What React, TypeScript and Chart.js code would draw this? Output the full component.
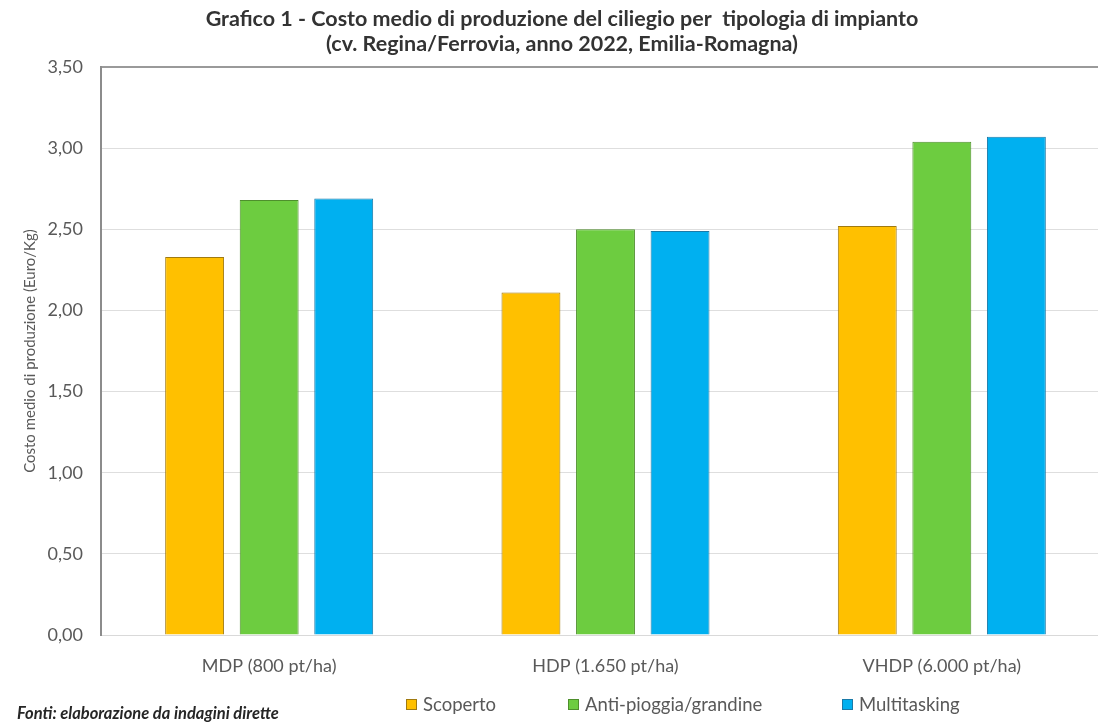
import React, { useEffect, useRef } from "react";
import { Chart, registerables } from "chart.js";

Chart.register(...registerables);

// Categories: planting density type
const categories = ["MDP (800 pt/ha)", "HDP (1.650 pt/ha)", "VHDP (6.000 pt/ha)"];

// Average production cost (Euro/Kg) per covering system
const scoperto = [2.33, 2.11, 2.52];
const antiPioggia = [2.68, 2.5, 3.04];
const multitasking = [2.69, 2.49, 3.07];

const seriesNames = ["Scoperto", "Anti-pioggia/grandine", "Multitasking"];
const seriesColors = ["#FFC000", "#6DCC40", "#00B0F0"];
const seriesBorders = ["#A07A10", "#4E8F2C", "#1A7AA8"];

const titleLines = [
  "Grafico 1 - Costo medio di produzione del ciliegio per  tipologia di impianto",
  "(cv. Regina/Ferrovia, anno 2022, Emilia-Romagna)",
];
const yAxisTitle = "Costo medio di produzione (Euro/Kg)";
const sourceNote = "Fonti: elaborazione da indagini dirette";

const FONT = "Lato, 'Open Sans', sans-serif";

// horizontal placement of the legend entries under the plot
const LEGEND_LEFT = [406, 568, 842];

export default function App() {
  const canvasRef = useRef<HTMLCanvasElement | null>(null);

  useEffect(() => {
    const canvas = canvasRef.current;
    if (!canvas) return;
    const values = [scoperto, antiPioggia, multitasking];
    const chart = new Chart(canvas, {
      type: "bar",
      data: {
        labels: categories,
        datasets: seriesNames.map((name, i) => ({
          label: name,
          data: values[i],
          backgroundColor: seriesColors[i],
          borderColor: seriesBorders[i],
          borderWidth: 1,
          categoryPercentage: 0.665,
          barPercentage: 0.79,
        })),
      },
      options: {
        responsive: false,
        animation: false,
        layout: { padding: { left: 14, right: 15, top: 0, bottom: 0 } },
        plugins: {
          legend: { display: false },
          tooltip: { enabled: false },
          title: {
            display: true,
            text: titleLines,
            color: "#333333",
            font: { family: FONT, size: 21.5, weight: "bold", lineHeight: 1.163 },
            padding: { top: 7, bottom: 10 },
          },
        },
        scales: {
          x: {
            afterFit: (s: any) => {
              s.height = 89;
            },
            grid: { display: false, drawTicks: false },
            border: { color: "#d9d9d9", width: 1 },
            ticks: {
              color: "#595959",
              font: { family: FONT, size: 18 },
              padding: 20,
            },
          },
          y: {
            min: 0,
            max: 3.5,
            afterFit: (s: any) => {
              s.width = 87;
            },
            ticks: {
              stepSize: 0.5,
              color: "#595959",
              font: { family: FONT, size: 18 },
              padding: 18,
              callback: (v: any) => Number(v).toFixed(2).replace(".", ","),
            },
            grid: {
              drawTicks: false,
              color: (ctx: any) => (ctx.tick && ctx.tick.value === 3.5 ? "#9a9a9a" : "#dedede"),
              lineWidth: (ctx: any) => (ctx.tick && ctx.tick.value === 3.5 ? 2 : 1),
            },
            border: { color: "#8c8c8c", width: 2 },
            title: {
              display: true,
              text: yAxisTitle,
              color: "#595959",
              font: { family: FONT, size: 15 },
              padding: { top: 7, bottom: 0 },
            },
          },
        },
      },
    });
    return () => chart.destroy();
  }, []);

  return (
    <div
      style={{
        position: "fixed",
        left: 0,
        top: 0,
        width: 1098,
        height: 724,
        overflow: "hidden",
        background: "#ffffff",
      }}
    >
      <canvas ref={canvasRef} width={1125} height={724} style={{ display: "block" }} />
      {seriesNames.map((name, i) => (
        <div
          key={name}
          style={{
            position: "absolute",
            left: LEGEND_LEFT[i],
            top: 693,
            display: "flex",
            alignItems: "center",
            gap: 6,
            fontFamily: FONT,
            fontSize: 18.5,
            color: "#595959",
            lineHeight: "22px",
            whiteSpace: "nowrap",
          }}
        >
          <span
            style={{
              display: "inline-block",
              width: 9,
              height: 9,
              background: seriesColors[i],
              border: `1px solid ${seriesBorders[i]}`,
            }}
          />
          <span>{name}</span>
        </div>
      ))}
      <div
        style={{
          position: "absolute",
          left: 17,
          top: 703,
          fontFamily: FONT,
          fontSize: 16.5,
          fontWeight: "bold",
          fontStyle: "italic",
          color: "#262626",
          lineHeight: "20px",
          whiteSpace: "nowrap",
        }}
      >
        {sourceNote}
      </div>
    </div>
  );
}
